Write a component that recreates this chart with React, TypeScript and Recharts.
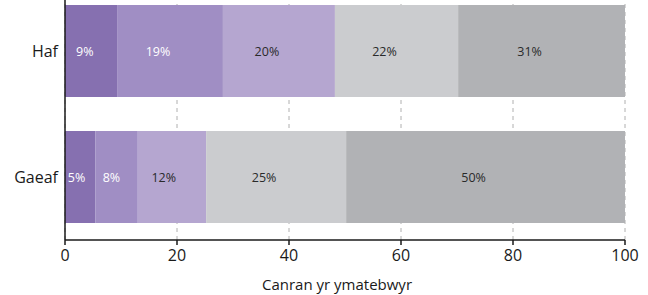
import React from "react";
import { BarChart, Bar, XAxis, YAxis, CartesianGrid, LabelList } from "recharts";

const categories = ["Haf", "Gaeaf"];
const xTicks = [0, 20, 40, 60, 80, 100];

// band values (percent of respondents)
const band1 = [9.3, 5.4];
const band2 = [18.9, 7.6];
const band3 = [20.0, 12.2];
const band4 = [22.0, 25.0];
const band5 = [29.8, 49.8];

// printed labels
const label1 = ["9%", "5%"];
const label2 = ["19%", "8%"];
const label3 = ["20%", "12%"];
const label4 = ["22%", "25%"];
const label5 = ["31%", "50%"];

const colors = ["#8670b0", "#a08ec4", "#b5a6d0", "#cbcccf", "#b1b2b5"];
const textColors = ["#ffffff", "#ffffff", "#2a2a2a", "#2a2a2a", "#2a2a2a"];

const bands = [band1, band2, band3, band4, band5];
const labels = [label1, label2, label3, label4, label5];

const data = categories.map((name, i) => {
  const row: Record<string, string | number> = { name };
  bands.forEach((b, k) => {
    row[`s${k}`] = b[i];
    row[`l${k}`] = labels[k][i];
  });
  return row;
});

const FONT = "'Open Sans', sans-serif";

function makeLabel(color: string) {
  return (props: any) => {
    const { x, y, width, height, value } = props;
    const shift = Math.min(12, width * 0.12);
    return (
      <text
        x={x + width / 2 - shift}
        y={y + height / 2}
        textAnchor="middle"
        dominantBaseline="central"
        fill={color}
        fontSize={12.5}
        fontFamily={FONT}
      >
        {value}
      </text>
    );
  };
}

export default function App() {
  return (
    <div style={{ position: "absolute", left: 0, top: 0, background: "#fff" }}>
      <BarChart
        width={648}
        height={295}
        data={data}
        layout="vertical"
        margin={{ top: -12, right: 23, left: 0, bottom: 5 }}
        barSize={92}
      >
        <CartesianGrid horizontal={false} strokeDasharray="4 4" stroke="#b0b0b0" />
        <XAxis
          type="number"
          domain={[0, 100]}
          ticks={xTicks}
          tickSize={5}
          tickMargin={5}
          height={50}
          stroke="#1a1a1a"
          strokeWidth={1.5}
          tick={{ fill: "#1a1a1a", fontSize: 16, fontFamily: FONT }}
          label={{
            value: "Canran yr ymatebwyr",
            position: "insideBottom",
            offset: 0,
            dx: -8,
            fill: "#1a1a1a",
            fontSize: 15,
            fontFamily: FONT,
          }}
        />
        <YAxis
          type="category"
          dataKey="name"
          width={65}
          tickLine={false}
          tickSize={0}
          tickMargin={7}
          stroke="#1a1a1a"
          strokeWidth={1.5}
          tick={{ fill: "#1a1a1a", fontSize: 16, fontFamily: FONT }}
        />
        {bands.map((_, k) => (
          <Bar key={k} dataKey={`s${k}`} stackId="a" fill={colors[k]} isAnimationActive={false}>
            <LabelList dataKey={`l${k}`} content={makeLabel(textColors[k])} />
          </Bar>
        ))}
      </BarChart>
    </div>
  );
}
